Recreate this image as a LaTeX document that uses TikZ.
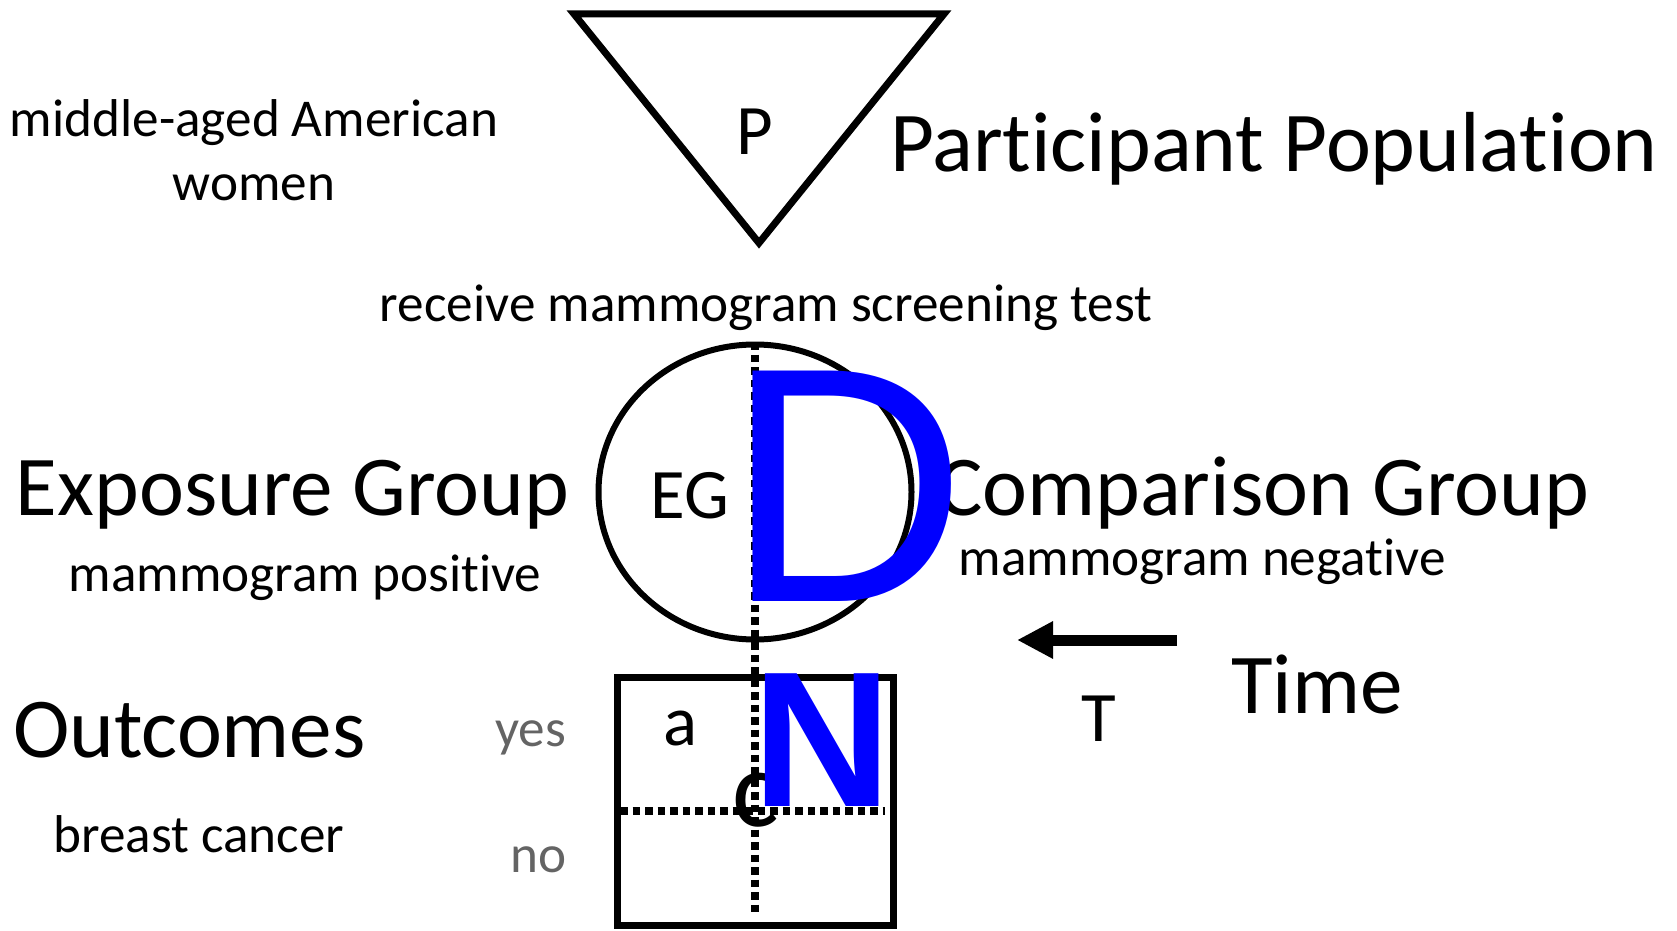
\documentclass[tikz,border=0pt]{standalone}
\usepackage{fontspec}
\setmainfont{Carlito}[Ligatures={NoCommon,NoContextual,NoRequired}]
\newfontfamily\arialfont{Liberation Sans}
\usetikzlibrary{arrows.meta}
\definecolor{pureblue}{RGB}{0,0,255}
\definecolor{greytext}{RGB}{100,100,100}
\newcommand{\nolig}{\kern0pt }
\tikzset{
  lbl/.style={inner sep=0pt, outer sep=0pt},
  big/.style={lbl, font=\fontsize{42.6}{48}\selectfont},
  sub/.style={lbl, font=\fontsize{26.6}{30}\selectfont},
  mid/.style={lbl, font=\fontsize{35.5}{40}\selectfont},
  grey/.style={sub, text=greytext},
  dotline/.style={line width=3.75pt, dash pattern=on 3.75pt off 2.5pt},
  shapeline/.style={line width=3.5pt, line join=miter},
}
\begin{document}
\begin{tikzpicture}[x=0.5pt, y=-0.5pt]
\useasboundingbox (0,0) rectangle (1677,931);
% triangle
\draw[shapeline] (574,14) -- (944,14) -- (759,243) -- cycle;
\node[mid, anchor=base] (P) at (755,155) {P};
\node[big, anchor=base west] (pp) at (890,171) {Part\nolig icipant Population};
\node[sub, anchor=base] (mid1) at (254,137) {middle-aged American};
\node[sub, anchor=base] (mid2) at (254,200) {women};
\node[sub, anchor=base] (recv) at (766,321) {receive mammogram screening test};
% circle
\draw[line width=3pt] (755,492) ellipse [x radius=78.25pt, y radius=73.75pt];
\node[mid, anchor=base] (EG) at (690,518) {EG};
\node[big, anchor=base west] (exp) at (16,515) {Exposure Group};
\node[sub, anchor=base] (pos) at (305,591) {mammogram posit\nolig ive};
\node[big, anchor=base west] (cmp) at (937,515) {Comparison Group};
\node[sub, anchor=base] (neg) at (1202,575) {mammogram negat\nolig ive};
% table
\draw[line width=3.5pt] (617,677) rectangle (893,925);
\coordinate (vtop) at (755,342);
\coordinate (vbot) at (755,913);
\coordinate (hl) at (620,811);
\coordinate (hr) at (885,811);
\draw[dotline] (vtop) -- (vbot);
\draw[dotline] (hl) -- (hr);
\node[mid, anchor=base] (a) at (680,745) {a};
\node[lbl, font=\fontsize{55}{60}\selectfont, anchor=base] (c) at (756,826) {c};
\node[big, anchor=base west] (out) at (13,757) {Outcomes};
\node[sub, anchor=base] (bc) at (199,852) {breast cancer};
\node[grey, anchor=base east] (yes) at (566,746) {yes};
\node[grey, anchor=base east] (no) at (567,872) {no};
% time
\coordinate (astart) at (1177,640);
\coordinate (aend) at (1017,640);
\draw[line width=5.5pt, -{Triangle[length=18pt, width=17.5pt]}] (astart) -- (aend);
\node[mid, anchor=base] (T) at (1099,741) {T};
\node[big, anchor=base west] (time) at (1231,713) {Time};
% blue letters
\node[lbl, font=\arialfont\fontsize{167.5}{170}\selectfont, text=pureblue, anchor=base] (D) at (846,601) {D};
\node[lbl, font=\arialfont\bfseries\fontsize{96.5}{100}\selectfont, text=pureblue, anchor=base] (N) at (822.5,806) {N};
\end{tikzpicture}
\end{document}
